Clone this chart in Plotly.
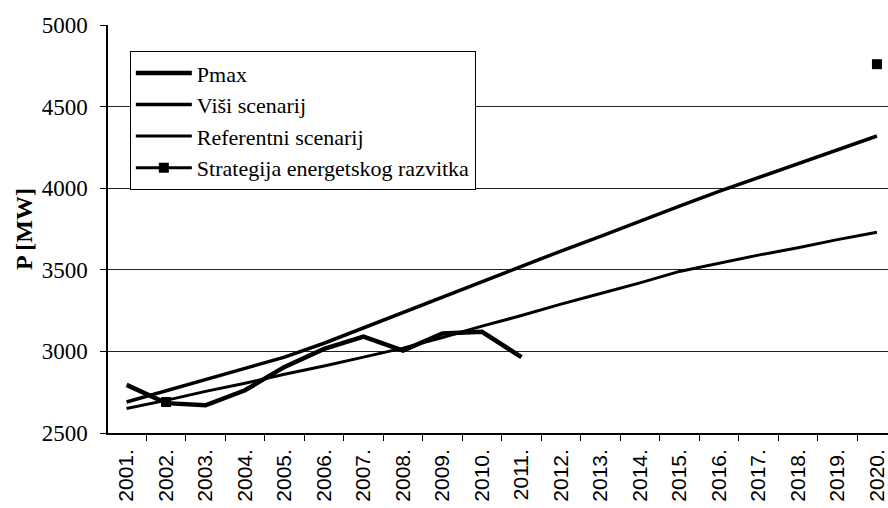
import plotly.graph_objects as go

# Years on the category axis
years = ["2001.", "2002.", "2003.", "2004.", "2005.", "2006.", "2007.",
         "2008.", "2009.", "2010.", "2011.", "2012.", "2013.", "2014.",
         "2015.", "2016.", "2017.", "2018.", "2019.", "2020."]

# Realised peak load (2001-2011), MW
pmax = [2795, 2683, 2670, 2762, 2905, 3015, 3090, 3005, 3110, 3120, 2965]

# Higher scenario, MW
visi_scenarij = [2690, 2760, 2830, 2900, 2965, 3050, 3145, 3240, 3335, 3430,
                 3525, 3615, 3705, 3800, 3890, 3980, 4065, 4150, 4235, 4320]

# Reference scenario, MW
referentni_scenarij = [2650, 2700, 2755, 2805, 2860, 2910, 2965, 3020, 3085, 3155,
                       3220, 3290, 3355, 3420, 3490, 3540, 3590, 3635, 3685, 3730]

# Energy development strategy (only two known points)
strategija = [None, 2690, None, None, None, None, None, None, None, None,
              None, None, None, None, None, None, None, None, None, 4760]

y_ticks = [2500, 3000, 3500, 4000, 4500, 5000]

SERIF = "Liberation Serif, Times New Roman, serif"
SANS = "Liberation Sans, Arial, sans-serif"
INK = "#000000"

fig = go.Figure()

# strategy markers sit underneath the measured line
fig.add_trace(go.Scatter(
    x=years, y=strategija, name="Strategija energetskog razvitka",
    mode="lines+markers", connectgaps=False, legendrank=4,
    line=dict(color=INK, width=3),
    marker=dict(symbol="square", size=10, color=INK)))
fig.add_trace(go.Scatter(
    x=years, y=referentni_scenarij, name="Referentni scenarij", mode="lines",
    legendrank=3, line=dict(color=INK, width=3)))
fig.add_trace(go.Scatter(
    x=years, y=visi_scenarij, name="Viši scenarij", mode="lines",
    legendrank=2, line=dict(color=INK, width=3.5)))
fig.add_trace(go.Scatter(
    x=years[:len(pmax)], y=pmax, name="Pmax", mode="lines",
    legendrank=1, line=dict(color=INK, width=4.5)))

fig.update_layout(
    width=888, height=508,
    margin=dict(l=108, r=0, t=25, b=75),
    paper_bgcolor="white", plot_bgcolor="white",
    showlegend=True,
    legend=dict(
        x=0.028, y=0.936, xanchor="left", yanchor="top",
        bgcolor="white", bordercolor=INK, borderwidth=1,
        font=dict(family=SERIF, size=22, color=INK),
        tracegroupgap=0, itemwidth=56,
    ),
)

fig.update_xaxes(
    type="category", categoryorder="array", categoryarray=years,
    range=[-0.47, 19.28],
    tickangle=-90, tickson="boundaries",
    ticks="outside", ticklen=6, tickcolor=INK,
    showline=True, linecolor=INK, linewidth=1.5,
    showgrid=False,
    tickfont=dict(family=SANS, size=21, color=INK),
    ticklabelstandoff=6,
)

fig.update_yaxes(
    range=[2500, 5000], tickvals=y_ticks,
    ticks="outside", ticklen=6, tickcolor=INK,
    showline=True, linecolor=INK, linewidth=1.5,
    showgrid=True, gridcolor="#222222", gridwidth=1,
    zeroline=False,
    tickfont=dict(family=SERIF, size=23, color=INK),
    ticklabelstandoff=8,
    title=dict(text="<b>P [MW]</b>", font=dict(family=SERIF, size=24, color=INK),
               standoff=2),
)

fig.write_html("out.html")
